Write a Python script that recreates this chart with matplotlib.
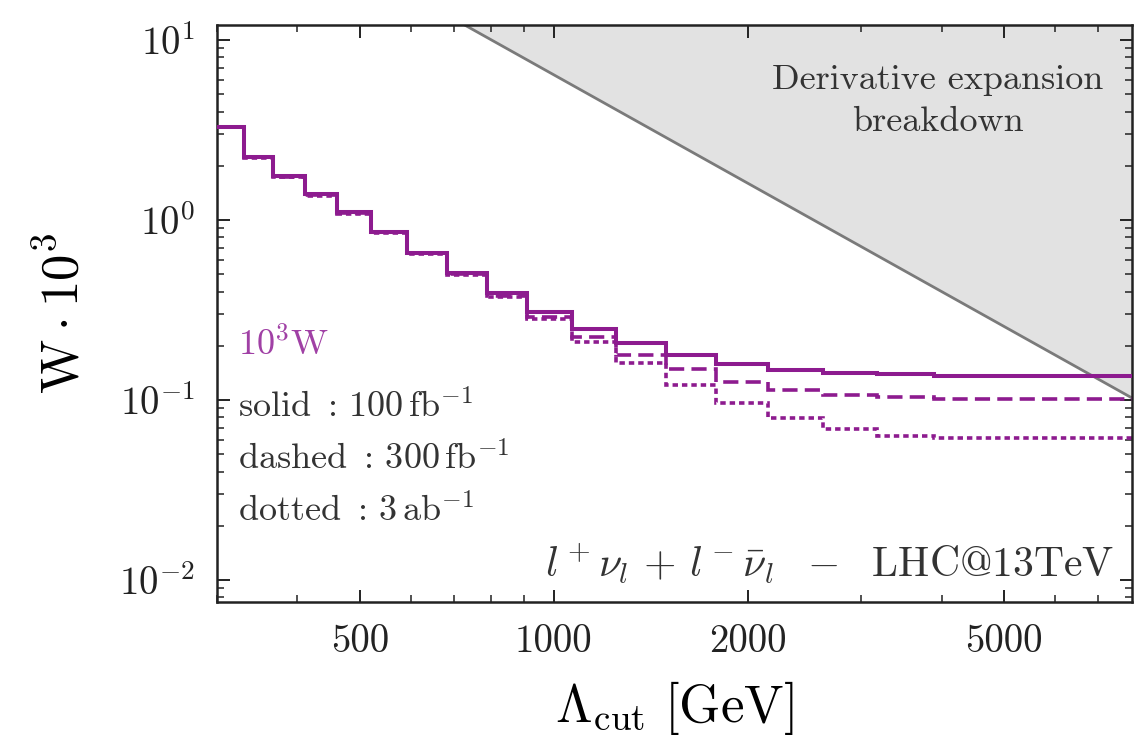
import matplotlib
matplotlib.use("Agg")
import matplotlib.pyplot as plt
from matplotlib.ticker import NullFormatter, FixedLocator

plt.rcParams['font.family'] = 'serif'
plt.rcParams['font.serif'] = ['cmr10', 'DejaVu Serif']
plt.rcParams['mathtext.fontset'] = 'cm'
plt.rcParams['axes.unicode_minus'] = False

# --- data ---
# bin edges in Lambda_cut [GeV]
edges = [300, 330, 366, 411, 461, 521, 591, 682, 788, 908, 1069,
         1251, 1495, 1788, 2148, 2615, 3180, 3900, 7900]

# 10^3 W per bin
w_100fb = [3.30, 2.25, 1.76, 1.39, 1.10, 0.861, 0.659, 0.506, 0.395, 0.309,
           0.248, 0.207, 0.178, 0.158, 0.147, 0.142, 0.140, 0.136]
w_300fb = [3.28, 2.23, 1.74, 1.37, 1.09, 0.852, 0.652, 0.498, 0.378, 0.290,
           0.223, 0.178, 0.148, 0.126, 0.114, 0.107, 0.1035, 0.1016]
w_3ab = [3.27, 2.22, 1.73, 1.36, 1.08, 0.848, 0.646, 0.493, 0.375, 0.281,
         0.211, 0.160, 0.121, 0.096, 0.079, 0.0687, 0.063, 0.0612]

# derivative expansion breakdown boundary (straight line in log-log)
boundary_lam = [500, 10000]
boundary_w = [25.6, 0.064]

purple = '#8d1b8f'

fig = plt.figure(figsize=(11.45, 7.44), dpi=100)
ax = fig.add_axes([0.1895, 0.191, 0.7991, 0.7754])

ax.fill_between(boundary_lam, boundary_w, 1000, color='#e2e2e2', lw=0, zorder=0)
ax.plot(boundary_lam, boundary_w, color='#7a7a7a', lw=2.0, zorder=1)

ax.stairs(w_3ab, edges, baseline=None, color=purple, lw=2.6, ls=(0, (1.5, 1.1)), zorder=2)
ax.stairs(w_300fb, edges, baseline=None, color=purple, lw=2.6, ls=(0, (4.2, 2.0)), zorder=3)
ax.stairs(w_100fb, edges, baseline=None, color=purple, lw=2.9, zorder=4)

ax.set_xscale('log')
ax.set_yscale('log')
ax.set_xlim(300, 7900)
ax.set_ylim(0.00755, 12.1)

ax.set_xticks([500, 1000, 2000, 5000], labels=['500', '1000', '2000', '5000'])
ax.xaxis.set_minor_locator(FixedLocator([300, 400, 600, 700, 800, 900, 3000, 4000, 6000, 7000]))
ax.xaxis.set_minor_formatter(NullFormatter())
ax.set_yticks([0.01, 0.1, 1, 10], labels=[r'$10^{-2}$', r'$10^{-1}$', r'$10^{0}$', r'$10^{1}$'])
ax.yaxis.set_minor_formatter(NullFormatter())

ax.tick_params(which='both', direction='in', top=True, right=True, labelsize=28, colors='#222222')
ax.tick_params(which='major', length=9, width=1.4, pad=16)
ax.tick_params(which='minor', length=5, width=1.1)
for s in ax.spines.values():
    s.set_linewidth(1.8)
    s.set_color('#222222')

ax.set_xlabel(r'$\Lambda_{\rm cut}\ [\mathrm{GeV}]$', fontsize=38, labelpad=14)
ax.set_ylabel(r'$\mathrm{W}\cdot10^3$', fontsize=38, labelpad=22)

# annotations
ax.text(0.788, 0.868, 'Derivative expansion\nbreakdown', transform=ax.transAxes,
        ha='center', va='center', fontsize=26, color='#333333', linespacing=1.45)
ax.text(0.023, 0.447, r'$10^3\mathrm{W}$', transform=ax.transAxes, ha='left', va='center',
        fontsize=26, color='#a040a5')
ax.text(0.023, 0.337, r'$\mathrm{solid}\ :\,100\,\mathrm{fb}^{-1}$', transform=ax.transAxes,
        ha='left', va='center', fontsize=26, color='#333333')
ax.text(0.023, 0.247, r'$\mathrm{dashed}\ :\,300\,\mathrm{fb}^{-1}$', transform=ax.transAxes,
        ha='left', va='center', fontsize=26, color='#333333')
ax.text(0.023, 0.157, r'$\mathrm{dotted}\ :\,3\,\mathrm{ab}^{-1}$', transform=ax.transAxes,
        ha='left', va='center', fontsize=26, color='#333333')
ax.text(0.98, 0.067, r'$l^+\nu_l\,+\,l^-\bar{\nu}_l\ \ -\ \ \mathrm{LHC@13TeV}$',
        transform=ax.transAxes, ha='right', va='center', fontsize=30, color='#333333')

fig.savefig('out.png', dpi=100)
